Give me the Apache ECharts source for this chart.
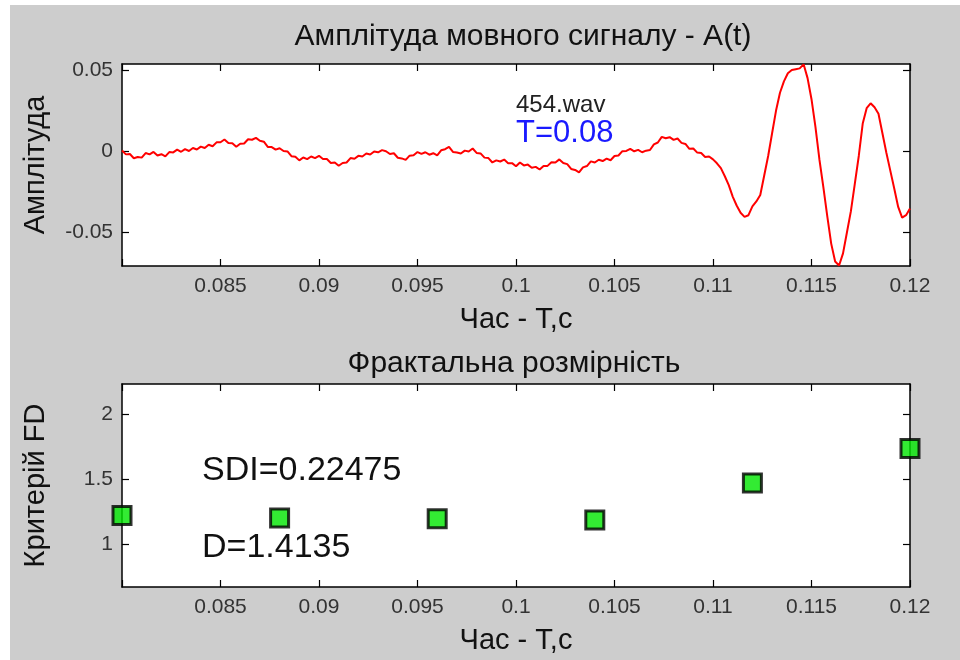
<!DOCTYPE html>
<html>
<head>
<meta charset="utf-8">
<script src="https://cdn.jsdelivr.net/npm/echarts@6/dist/echarts.min.js"></script>
<style>
html,body{margin:0;padding:0;background:#fff;}
#chart{width:960px;height:660px;}
</style>
</head>
<body>
<div id="chart"></div>
<script>
// ---- Data ----
const waveStart = 0.08;
const waveStep = 0.0002;
const waveAmp = [
 0.0004,-0.0020,-0.0018,-0.0044,-0.0036,-0.0040,-0.0012,-0.0020,-0.0005,-0.0027,
-0.0019,-0.0032,-0.0006,-0.0008, 0.0009,-0.0004, 0.0012, 0.0001, 0.0019, 0.0010,
 0.0028, 0.0019, 0.0039, 0.0030, 0.0054, 0.0055, 0.0072, 0.0050, 0.0049, 0.0027,
 0.0046, 0.0047, 0.0073, 0.0070, 0.0082, 0.0064, 0.0058, 0.0026, 0.0025, 0.0009,
 0.0018, 0.0001,-0.0002,-0.0031,-0.0035,-0.0057,-0.0039,-0.0049,-0.0033,-0.0043,
-0.0029,-0.0048,-0.0049,-0.0073,-0.0070,-0.0090,-0.0073,-0.0070,-0.0043,-0.0047,
-0.0029,-0.0033,-0.0015,-0.0021,-0.0002,-0.0007, 0.0006,-0.0001,-0.0018,-0.0013,
-0.0041,-0.0045,-0.0054,-0.0028,-0.0026,-0.0006,-0.0017,-0.0007,-0.0022,-0.0013,
-0.0026, 0.0005, 0.0012, 0.0026,-0.0005,-0.0009,-0.0015, 0.0003,-0.0002, 0.0016,
-0.0011,-0.0014,-0.0040,-0.0043,-0.0070,-0.0057,-0.0064,-0.0052,-0.0074,-0.0074,
-0.0093,-0.0070,-0.0088,-0.0083,-0.0102,-0.0097,-0.0113,-0.0091,-0.0091,-0.0068,
-0.0070,-0.0051,-0.0073,-0.0080,-0.0110,-0.0116,-0.0131,-0.0100,-0.0092,-0.0063,
-0.0070,-0.0053,-0.0061,-0.0046,-0.0056,-0.0030,-0.0027, 0.0000, 0.0001, 0.0014,
-0.0001, 0.0008,-0.0007, 0.0003, 0.0007, 0.0042, 0.0053, 0.0088, 0.0079, 0.0086,
 0.0069, 0.0078, 0.0051, 0.0044, 0.0014, 0.0016,-0.0009,-0.0012,-0.0036,-0.0033,
-0.0051,-0.0075,-0.0105,-0.0155,-0.0210,-0.0280,-0.0335,-0.0380,-0.0405,-0.0395,
-0.0340,-0.0310,-0.0270,-0.0150,-0.0030, 0.0110, 0.0250, 0.0360, 0.0430, 0.0480,
 0.0500, 0.0505, 0.0510, 0.0535, 0.0450, 0.0320, 0.0150,-0.0050,-0.0220,-0.0400,
-0.0570,-0.0680,-0.0705,-0.0630,-0.0500,-0.0370,-0.0200,-0.0030, 0.0170, 0.0265,
 0.0295, 0.0270, 0.0230, 0.0110,-0.0010,-0.0120,-0.0230,-0.0344,-0.0410,-0.0395,
-0.0354
];

// Fractal dimension per window
const fdTimes = [0.08, 0.088, 0.096, 0.104, 0.112, 0.12];
const fdValues = [1.22, 1.20, 1.195, 1.185, 1.47, 1.735];

// Tick values
const ampTicks = [-0.05, 0, 0.05];
const fdTicks = [1, 1.5, 2];

// Texts
const topTitle = 'Амплітуда мовного сигналу - A(t)';
const bottomTitle = 'Фрактальна розмірність';
const timeName = 'Час - T,c';
const ampName = 'Амплітуда';
const fdName = 'Критерій FD';
const fileLabel = '454.wav';
const periodLabel = 'T=0.08';
const sdiLabel = 'SDI=0.22475';
const dLabel = 'D=1.4135';

// ---- Chart ----
const FONT = "'Liberation Sans', Arial, sans-serif";
const waveData = waveAmp.map((v, i) => [waveStart + i * waveStep, v]);
const fdData = fdTimes.map((t, i) => [t, fdValues[i]]);

const axisLineStyle = { show: true, onZero: false, lineStyle: { color: '#000', width: 1.5 } };
const fmtTime = v => (Math.abs(v - 0.08) < 1e-9) ? '' : String(+v.toFixed(3));
const tickStyle = { color: '#000', width: 1.2 };

function xAxisBottom(grid) {
  return {
    type: 'value', gridIndex: grid, min: 0.08, max: 0.12, interval: 0.005,
    position: 'bottom',
    axisLine: axisLineStyle,
    axisTick: { show: true, inside: true, length: 7, lineStyle: tickStyle },
    axisLabel: { color: '#333', fontSize: 21, fontFamily: FONT, margin: 10,
      formatter: fmtTime, showMinLabel: true, showMaxLabel: true },
    splitLine: { show: false },
    name: timeName, nameLocation: 'middle', nameGap: 39,
    nameTextStyle: { color: '#111', fontSize: 29, fontFamily: FONT }
  };
}
function xAxisTop(grid) {
  return {
    type: 'value', gridIndex: grid, min: 0.08, max: 0.12, interval: 0.005,
    position: 'top',
    axisLine: axisLineStyle,
    axisTick: { show: true, inside: true, length: 7, lineStyle: tickStyle },
    axisLabel: { show: false },
    splitLine: { show: false }
  };
}
function yAxisLeft(grid, min, max, ticks, name, fmt) {
  return {
    type: 'value', gridIndex: grid, min: min, max: max, position: 'left',
    axisLine: axisLineStyle,
    axisTick: { show: true, inside: true, length: 7, customValues: ticks, lineStyle: tickStyle },
    axisLabel: { color: '#333', fontSize: 21, fontFamily: FONT, margin: 9,
      customValues: ticks, formatter: fmt },
    splitLine: { show: false },
    name: name, nameLocation: 'middle', nameGap: 72,
    nameTextStyle: { color: '#111', fontSize: 29, fontFamily: FONT }
  };
}
function yAxisRight(grid, min, max, ticks) {
  return {
    type: 'value', gridIndex: grid, min: min, max: max, position: 'right',
    axisLine: axisLineStyle,
    axisTick: { show: true, inside: true, length: 7, customValues: ticks, lineStyle: tickStyle },
    axisLabel: { show: false, customValues: ticks },
    splitLine: { show: false }
  };
}

const chart = echarts.init(document.getElementById('chart'), null, { renderer: 'canvas' });
chart.setOption({
  backgroundColor: '#ffffff',
  animation: false,
  title: [
    { text: topTitle, left: 518, top: 17, textAlign: 'center',
      textStyle: { color: '#111', fontSize: 30, fontWeight: 'normal', fontFamily: FONT } },
    { text: bottomTitle, left: 509, top: 344, textAlign: 'center',
      textStyle: { color: '#111', fontSize: 30, fontWeight: 'normal', fontFamily: FONT } }
  ],
  graphic: [
    { type: 'rect', z: -10, silent: true, shape: { x: 10, y: 5, width: 950, height: 655 },
      style: { fill: '#cdcdcd' } },
    { type: 'text', z: 100, left: 516, top: 93,
      style: { text: fileLabel, fill: '#222', fontSize: 24, fontFamily: FONT } },
    { type: 'text', z: 100, left: 516, top: 118,
      style: { text: periodLabel, fill: '#1a1aff', fontSize: 31, fontFamily: FONT } },
    { type: 'text', z: 100, left: 202, top: 454,
      style: { text: sdiLabel, fill: '#111', fontSize: 34, fontFamily: FONT } },
    { type: 'text', z: 100, left: 202, top: 531,
      style: { text: dLabel, fill: '#111', fontSize: 34, fontFamily: FONT } }
  ],
  grid: [
    { left: 122, right: 50, top: 64, height: 202, show: true, backgroundColor: '#ffffff', borderWidth: 0 },
    { left: 122, right: 50, top: 384, height: 203, show: true, backgroundColor: '#ffffff', borderWidth: 0 }
  ],
  xAxis: [ xAxisBottom(0), xAxisTop(0), xAxisBottom(1), xAxisTop(1) ],
  yAxis: [
    yAxisLeft(0, -0.0708, 0.0537, ampTicks, ampName, v => String(+v.toFixed(3))),
    yAxisRight(0, -0.0708, 0.0537, ampTicks),
    yAxisLeft(1, 0.669, 2.231, fdTicks, fdName, v => String(+v.toFixed(2))),
    yAxisRight(1, 0.669, 2.231, fdTicks)
  ],
  series: [
    { type: 'line', name: 'A(t)', xAxisIndex: 0, yAxisIndex: 0, data: waveData,
      showSymbol: false, symbol: 'none', clip: true,
      lineStyle: { color: '#ff0000', width: 2 } },
    { type: 'scatter', name: 'FD', xAxisIndex: 2, yAxisIndex: 2, data: fdData,
      symbol: 'rect', symbolSize: 18, clip: false, z: 10,
      itemStyle: { color: '#00e600', borderColor: '#000', borderWidth: 3 } }
  ]
});
</script>
</body>
</html>
